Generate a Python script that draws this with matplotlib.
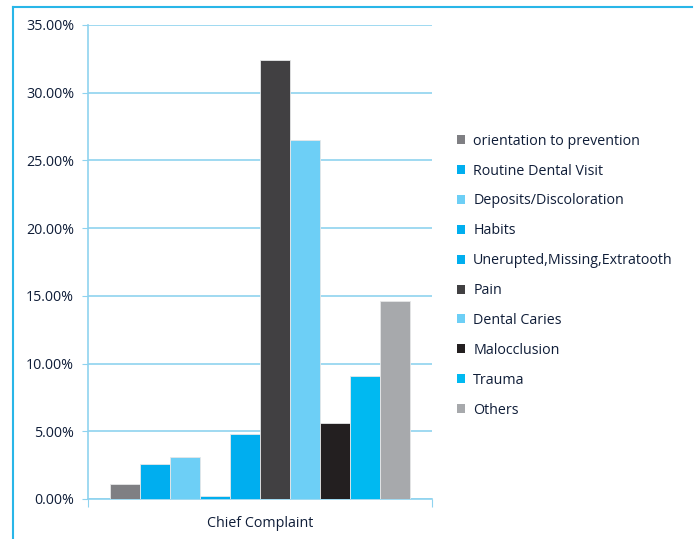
import matplotlib.pyplot as plt
from matplotlib.lines import Line2D
from matplotlib.patches import Patch

# Dados do gráfico
categorias = ['orientation to prevention', 'Routine Dental Visit', 'Deposits/Discoloration',
              'Habits', 'Unerupted,Missing,Extratooth', 'Pain', 'Dental Caries',
              'Malocclusion', 'Trauma', 'Others']
valores = [1.1, 2.6, 3.1, 0.2, 4.8, 32.4, 26.5, 5.6, 9.1, 14.6]
cores = ['#7f7f83', '#00aeef', '#6dcff6', '#00aeef', '#00aeef', '#414042',
         '#6dcff6', '#231f20', '#00b9f1', '#a7a9ac']
grupo = 'Chief Complaint'
yticks = [0, 5, 10, 15, 20, 25, 30, 35]

cor_texto = '#0f1d38'
cor_grade = '#8fd3ef'
tam = 10.3

plt.rcParams['font.family'] = ['Open Sans', 'DejaVu Sans']

fig = plt.figure(figsize=(6.96, 5.39), dpi=100)
ax = fig.add_axes([88 / 696, 40 / 539, 344 / 696, 474 / 539])

n = len(valores)
largura = 0.872 / n
for i, (cat, v, c) in enumerate(zip(categorias, valores, cores)):
    x = (i - (n - 1) / 2) * largura
    ax.bar(x, v, width=largura, color=c, edgecolor='#e6e7e8', linewidth=0.6,
           label=cat, zorder=3)

ax.set_xlim(-0.5, 0.5)
ax.set_ylim(0, 35)
ax.set_yticks(yticks)
ax.set_yticklabels([f'{t:.2f}%' for t in yticks], color=cor_texto, fontsize=tam)
ax.yaxis.grid(True, color=cor_grade, linewidth=1.2, zorder=0)
ax.tick_params(axis='y', length=4, color=cor_grade, pad=6)

ax.set_xticks([-0.5, 0.5])
ax.set_xticklabels(['', ''])
ax.tick_params(axis='x', length=6, color=cor_grade, direction='out')
ax.text(0, -0.035, grupo, transform=ax.get_xaxis_transform(), ha='center', va='top',
        color=cor_texto, fontsize=tam)

for lado in ['top', 'right']:
    ax.spines[lado].set_visible(False)
for lado in ['left', 'bottom']:
    ax.spines[lado].set_color(cor_grade)
    ax.spines[lado].set_linewidth(1.2)

# Legenda
handles = [Patch(facecolor=c, edgecolor='none') for c in cores]
leg = fig.legend(handles, categorias, loc='upper left', bbox_to_anchor=(451 / 696, 1 - 128 / 539),
                 frameon=False, fontsize=tam, handlelength=0.6, handleheight=0.6,
                 handletextpad=0.55, labelspacing=1.04, borderaxespad=0)
for t in leg.get_texts():
    t.set_color(cor_texto)

# Moldura azul da figura
fig.add_artist(Line2D([13 / 696, 692 / 696], [1 - 6.5 / 539, 1 - 6.5 / 539],
                      color='#29b6e8', linewidth=1.5, transform=fig.transFigure))
fig.add_artist(Line2D([13 / 696, 13 / 696], [0, 1 - 6.5 / 539],
                      color='#29b6e8', linewidth=1.5, transform=fig.transFigure))

fig.savefig('out.png', dpi=100)
